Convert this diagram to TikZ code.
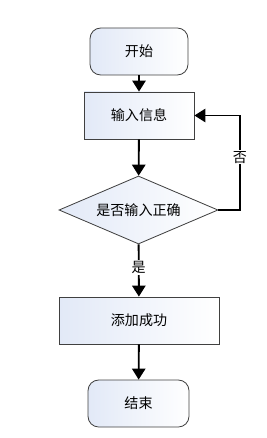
\documentclass[tikz,border=0pt]{standalone}
\usepackage{fontspec}
\setmainfont{Noto Sans CJK SC}
\usetikzlibrary{shapes.geometric,arrows.meta}
\definecolor{boxtint}{RGB}{226,233,247}
\tikzset{
  box/.style={draw=black!75, line width=0.7pt, left color=boxtint, right color=white,
    minimum height=1.41cm, inner sep=0pt, font=\fontsize{12}{14}\selectfont},
  roundbox/.style={box, rounded corners=0.32cm},
  decision/.style={box, diamond, aspect=2.3, minimum width=4.77cm, minimum height=2.04cm},
  flow/.style={line width=1.6pt, -{Triangle[width=0.4cm,length=0.33cm]}},
  tag/.style={fill=white, inner sep=1pt, font=\fontsize{12}{14}\selectfont}
}
\begin{document}
\begin{tikzpicture}
\useasboundingbox (0,0) rectangle (8.01,-13.14);
\node[roundbox, minimum width=2.94cm] (start) at (4.17,-1.545) {开始};
\node[box, minimum width=3.3cm] (input) at (4.17,-3.465) {输入信息};
\node[decision] (check) at (4.155,-6.3) {是否输入正确};
\node[box, minimum width=4.8cm] (add) at (4.17,-9.615) {添加成功};
\node[roundbox, minimum width=3.03cm] (stop) at (4.155,-12.105) {结束};
\coordinate (back) at (7.2,-6.3);

\draw[flow] (start) -- (input);
\draw[flow] (input) -- (check);
\draw[flow] (check) -- node[tag, pos=0.45] (yes) {是} (add);
\draw[flow] (add) -- (stop);
\draw[flow] (check.east) -- (back) |- node[tag, pos=0.28] (no) {否} (input.east);
\end{tikzpicture}
\end{document}
